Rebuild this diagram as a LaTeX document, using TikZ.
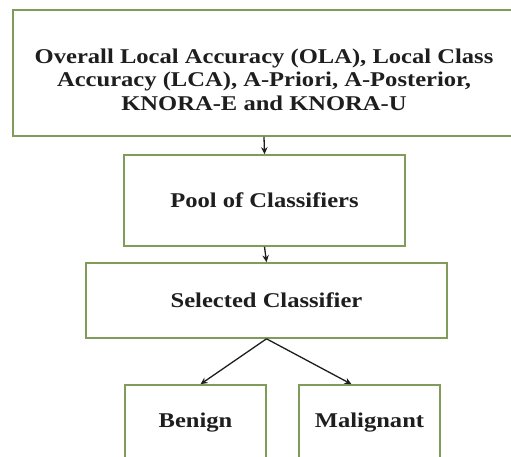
\documentclass[tikz,border=0pt]{standalone}
\usepackage{fontspec}
\setmainfont{Liberation Serif}[FakeStretch=1.17]
\usetikzlibrary{arrows.meta, positioning}

\definecolor{boxgreen}{RGB}{128,155,90}
\definecolor{inkgray}{RGB}{30,30,30}

\begin{document}
\begin{tikzpicture}[
    x=1pt, y=-1pt,
    block/.style={
        draw=boxgreen,
        line width=1.6pt,
        rectangle,
        align=center,
        text=inkgray,
        font=\fontsize{21}{23.5}\selectfont\bfseries,
        inner sep=0pt
    },
    arrow/.style={-{Stealth[length=7pt, width=6.5pt]}, line width=1.3pt, inkgray}
]
\useasboundingbox[fill=white] (0,0) rectangle (511,457);

% ===== Boxes =====
\node[block, minimum width=502pt, minimum height=126pt] (methods) at (264,73)
    {\rule{0pt}{28pt}Overall Local Accuracy (OLA), Local Class\\Accuracy (LCA), A-Priori, A-Posterior,\\KNORA-E and KNORA-U};

\node[block, minimum width=281pt, minimum height=91pt] (pool) at (264.5,200.5) {Pool of Classifiers};

\node[block, minimum width=361pt, minimum height=75pt] (selected) at (266.5,300.5) {Selected Classifier};

\node[block, minimum width=141pt, minimum height=90pt] (benign) at (195.5,430) {\raisebox{20pt}{Benign}};

\node[block, minimum width=141pt, minimum height=90pt] (malignant) at (369.5,430) {\raisebox{20pt}{Malignant}};

% ===== Arrows =====
\draw[arrow] (methods.south) -- (pool.north);
\draw[arrow] (pool.south) -- (selected.north);
\draw[arrow] (selected.south) -- ([xshift=5pt]benign.north);
\draw[arrow] (selected.south) -- ([xshift=-18pt]malignant.north);

\end{tikzpicture}
\end{document}
